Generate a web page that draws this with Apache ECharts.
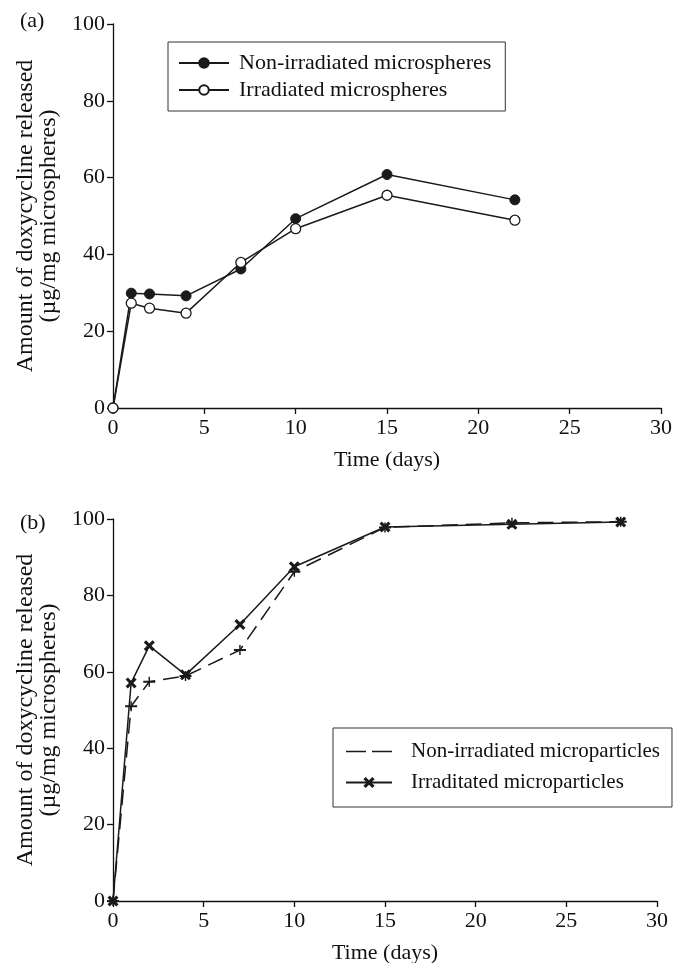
<!DOCTYPE html>
<html>
<head>
<meta charset="utf-8">
<script src="https://cdn.jsdelivr.net/npm/echarts@6/dist/echarts.min.js"></script>
<style>html,body{margin:0;padding:0;background:#fff}#c{width:675px;height:963px}</style>
</head>
<body>
<div id="c"></div>
<script>
// Panel (a)
var daysA = [0, 1, 2, 4, 7, 10, 15, 22];
var nonIrrSpheres = [0, 29.9, 29.7, 29.2, 36.2, 49.3, 60.8, 54.2];
var irrSpheres = [0, 27.3, 26.0, 24.7, 37.9, 46.7, 55.4, 48.9];
// Panel (b)
var daysB = [0, 1, 2, 4, 7, 10, 15, 22, 28];
var nonIrrParticles = [0, 51.0, 57.4, 58.9, 65.7, 86.2, 97.8, 99.0, 99.3];
var irrParticles = [0, 57.1, 66.8, 59.2, 72.4, 87.5, 97.9, 98.6, 99.2];
var xTicks = [0, 5, 10, 15, 20, 25, 30];
var yTicks = [0, 20, 40, 60, 80, 100];

function pairs(xs, ys) { return xs.map(function (x, i) { return [x, ys[i]]; }); }

var FONT = 'Liberation Serif';
var FS = 22;
var txt = { color: '#111', fontFamily: FONT, fontSize: FS };
var xName = 'Time (days)';
var yName = 'Amount of doxycycline released\n(µg/mg microspheres)';

function xAxis(idx) {
  return {
    type: 'value', gridIndex: idx, min: xTicks[0], max: xTicks[xTicks.length - 1], interval: 5,
    name: xName, nameLocation: 'middle', nameGap: 41,
    nameTextStyle: { color: '#111', fontFamily: FONT, fontSize: FS },
    axisLine: { show: true, lineStyle: { color: '#111', width: 1.3 } },
    axisTick: { show: true, inside: false, length: 6, lineStyle: { color: '#111', width: 1.3 } },
    axisLabel: Object.assign({ margin: 9 }, txt),
    splitLine: { show: false }
  };
}
function yAxis(idx) {
  return {
    type: 'value', gridIndex: idx, min: yTicks[0], max: yTicks[yTicks.length - 1], interval: 20,
    name: yName, nameLocation: 'middle', nameGap: 51, nameRotate: 90,
    nameTextStyle: { color: '#111', fontFamily: FONT, fontSize: 24, lineHeight: 23 },
    axisLine: { show: true, lineStyle: { color: '#111', width: 1.3 } },
    axisTick: { show: true, inside: false, length: 6, lineStyle: { color: '#111', width: 1.3 } },
    axisLabel: Object.assign({ margin: 8 }, txt),
    splitLine: { show: false }
  };
}

var xSym = 'path://M2,0 L5,3 L8,0 L10,2 L7,5 L10,8 L8,10 L5,7 L2,10 L0,8 L3,5 L0,2 Z';
var plusSym = 'path://M0,4.3 L10,4.3 L10,5.7 L0,5.7 Z M4.4,1.5 L5.6,1.5 L5.6,8.5 L4.4,8.5 Z';
var dashIcon = 'path://M0,0 L0.01,0 L0,0.01 Z M0,6.3 L20,6.3 L20,7.7 L0,7.7 Z M26,6.3 L46,6.3 L46,7.7 L26,7.7 Z M0,14 L0.01,14 L0,13.99 Z';

var chart = echarts.init(document.getElementById('c'), null, { renderer: 'canvas' });
chart.setOption({
  backgroundColor: '#fff',
  animation: false,
  textStyle: { fontFamily: FONT },
  title: [
    { text: '(a)', left: 15, top: 5, textStyle: { color: '#111', fontFamily: FONT, fontSize: FS, fontWeight: 'normal' } },
    { text: '(b)', left: 15, top: 507, textStyle: { color: '#111', fontFamily: FONT, fontSize: FS, fontWeight: 'normal' } }
  ],
  grid: [
    { left: 113, top: 24, right: 14, height: 384, containLabel: false, outerBoundsMode: 'none' },
    { left: 113, top: 519, right: 18, height: 382, containLabel: false, outerBoundsMode: 'none' }
  ],
  xAxis: [xAxis(0), xAxis(1)],
  yAxis: [yAxis(0), yAxis(1)],
  legend: [
    {
      orient: 'vertical', left: 168, top: 42,
      data: ['Non-irradiated microspheres', 'Irradiated microspheres'],
      itemWidth: 50, itemHeight: 12, itemGap: 5,
      padding: [10, 14, 10, 10],
      borderColor: '#333', borderWidth: 1,
      textStyle: { color: '#111', fontFamily: FONT, fontSize: FS, padding: [0, 0, 0, 5] }
    },
    {
      orient: 'vertical', left: 333, top: 728,
      data: [{ name: 'Non-irradiated microparticles', icon: dashIcon }, { name: 'Irraditated microparticles' }],
      itemWidth: 46, itemHeight: 14, itemGap: 10,
      padding: [13, 12, 14, 12],
      borderColor: '#333', borderWidth: 1,
      textStyle: { color: '#111', fontFamily: FONT, fontSize: 21, padding: [0, 0, 0, 14] }
    }
  ],
  series: [
    {
      name: 'Non-irradiated microspheres', type: 'line', xAxisIndex: 0, yAxisIndex: 0,
      data: pairs(daysA, nonIrrSpheres), symbol: 'circle', symbolSize: 10,
      lineStyle: { color: '#1a1a1a', width: 1.5 },
      itemStyle: { color: '#1a1a1a', borderColor: '#1a1a1a', borderWidth: 1 }, z: 3
    },
    {
      name: 'Irradiated microspheres', type: 'line', xAxisIndex: 0, yAxisIndex: 0,
      data: pairs(daysA, irrSpheres), symbol: 'circle', symbolSize: 10, showAllSymbol: true,
      lineStyle: { color: '#1a1a1a', width: 1.5 },
      itemStyle: { color: '#fff', borderColor: '#1a1a1a', borderWidth: 1.3 }, z: 4
    },
    {
      name: 'Non-irradiated microparticles', type: 'line', xAxisIndex: 1, yAxisIndex: 1,
      data: pairs(daysB, nonIrrParticles), symbol: plusSym, symbolSize: [12, 10],
      lineStyle: { color: '#1a1a1a', width: 1.5, type: [16, 8] },
      itemStyle: { color: '#1a1a1a' }, z: 3
    },
    {
      name: 'Irraditated microparticles', type: 'line', xAxisIndex: 1, yAxisIndex: 1,
      data: pairs(daysB, irrParticles), symbol: xSym, symbolSize: 11,
      lineStyle: { color: '#1a1a1a', width: 1.5 },
      itemStyle: { color: '#1a1a1a' }, z: 4
    }
  ]
});
</script>
</body>
</html>
